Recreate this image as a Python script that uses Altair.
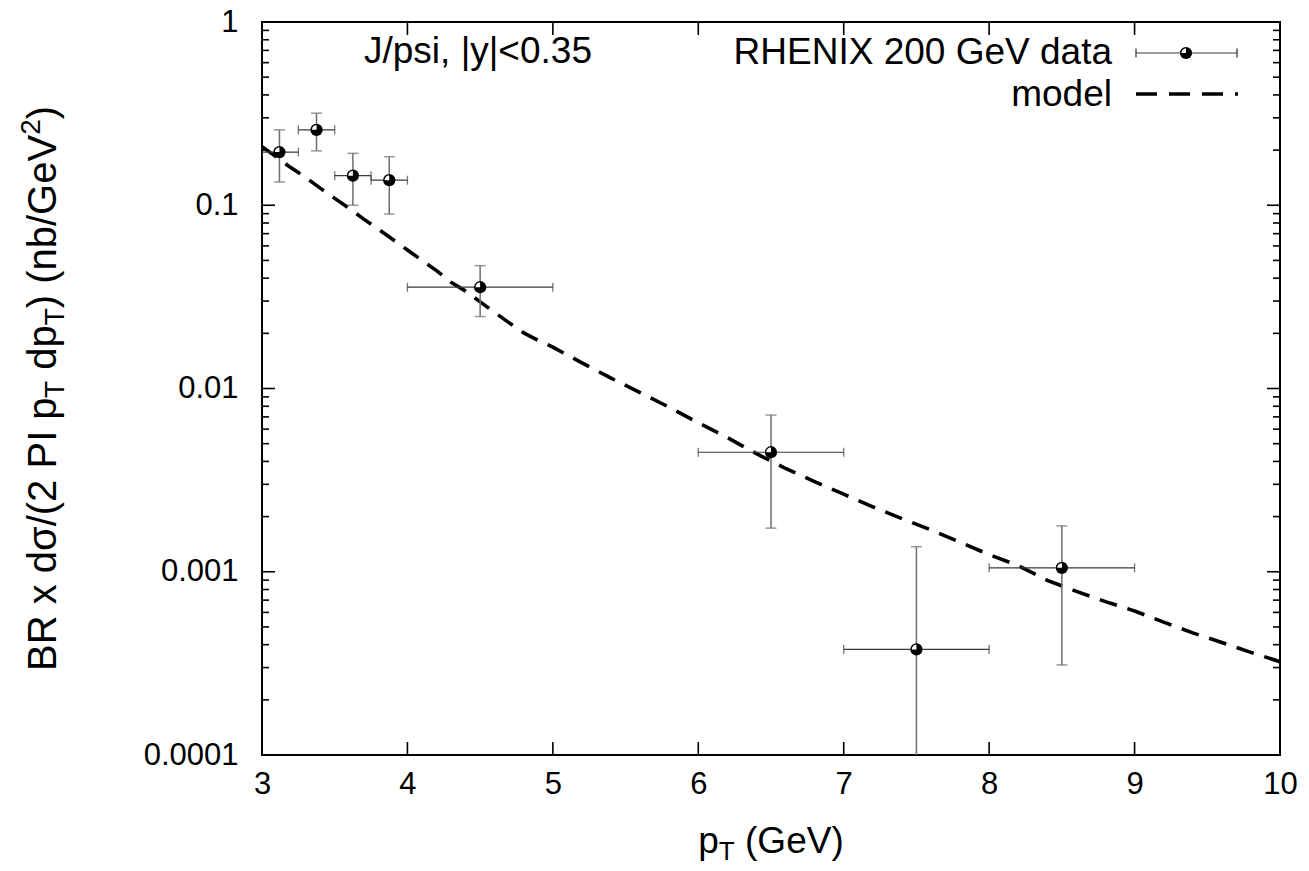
import altair as alt
import pandas as pd

FONT = "Liberation Sans"
W, H = 1018, 733

# ---- measured data points (pT bins) ----
pt_x = [3.12, 3.375, 3.625, 3.875, 4.5, 6.5, 7.5, 8.5]
pt_y = [0.195, 0.258, 0.145, 0.137, 0.0357, 0.00449, 0.000377, 0.00105]
pt_ylo = [0.134, 0.198, 0.100, 0.0896, 0.0247, 0.00173, 0.00005, 0.00031]
pt_yhi = [0.258, 0.318, 0.192, 0.184, 0.0468, 0.00716, 0.00137, 0.00178]
pt_xlo = [3.0, 3.25, 3.5, 3.75, 4.0, 6.0, 7.0, 8.0]
pt_xhi = [3.25, 3.5, 3.75, 4.0, 5.0, 7.0, 8.0, 9.0]

# ---- model curve ----
model_x = [3.0, 3.1, 3.2, 3.3, 3.4, 3.5, 3.6, 3.7, 3.8, 3.9, 4.0, 4.1, 4.2, 4.3,
           4.4, 4.5, 4.6, 4.7, 4.8, 4.9, 5.0, 5.2, 5.4, 5.6, 5.8, 6.0, 6.2, 6.4,
           6.6, 6.8, 7.0, 7.2, 7.4, 7.6, 7.8, 8.0, 8.2, 8.4, 8.6, 8.8, 9.0, 9.2,
           9.4, 9.6, 9.8, 10.0]
model_y = [0.209, 0.183, 0.160, 0.142, 0.124, 0.109, 0.096, 0.084, 0.074, 0.065,
           0.057, 0.050, 0.044, 0.038, 0.034, 0.0297, 0.026, 0.0228, 0.0201,
           0.0183, 0.0168, 0.0138, 0.0114, 0.0095, 0.0079, 0.0065, 0.0054,
           0.00441, 0.00366, 0.0031, 0.00265, 0.00226, 0.00195, 0.00169,
           0.00145, 0.00124, 0.00108, 0.000897, 0.000782, 0.000687, 0.000611,
           0.000531, 0.000464, 0.000411, 0.000363, 0.000323]

# ---- axis ticks ----
x_ticks = [3, 4, 5, 6, 7, 8, 9, 10]
y_major = [0.0001, 0.001, 0.01, 0.1, 1]
y_minor = [k * d for d in [0.0001, 0.001, 0.01, 0.1] for k in range(2, 10)]

# ---- text ----
label_text = "J/psi, |y|<0.35"
legend_data = "RHENIX 200 GeV data"
legend_model = "model"

ERR_V = "#6e6e6e"
ERR_H = "#3a3a3a"

xs = alt.Scale(domain=[3, 10], nice=False, zero=False)
ys = alt.Scale(type="log", domain=[1e-4, 1], nice=False)
xaxis = alt.Axis(values=x_ticks, format="d", title=None, domain=False, grid=False,
                 ticks=False, tickSize=0, labelFontSize=31, labelFont=FONT,
                 labelColor="black", labelPadding=14, labelFlush=False)
yaxis = alt.Axis(values=y_major, format=".4~f", title=None, domain=False, grid=False,
                 ticks=False, tickSize=0, labelFontSize=31, labelFont=FONT,
                 labelColor="black", labelPadding=24, labelFlush=False)


def X(f):
    return alt.X(f, type="quantitative", scale=xs, axis=xaxis)


def Y(f):
    return alt.Y(f, type="quantitative", scale=ys, axis=yaxis)


pts = pd.DataFrame({"x": pt_x, "y": pt_y, "ylo": pt_ylo, "yhi": pt_yhi,
                    "xlo": pt_xlo, "xhi": pt_xhi})
model = pd.DataFrame({"x": model_x, "y": model_y})
vcaps = pd.DataFrame({"x": pt_x + pt_x, "y": pt_ylo + pt_yhi})
hcaps = pd.DataFrame({"x": pt_xlo + pt_xhi, "y": pt_y + pt_y})

WEDGE = "M0,0L-1,0A1,1 0 0,1 0,-1Z"
MSIZE = 150
WSIZE = 85

layers = []
layers.append(alt.Chart(model).mark_line(color="black", strokeWidth=3.6,
                                          strokeDash=[18, 11], clip=True)
              .encode(x=X("x"), y=Y("y")))
layers.append(alt.Chart(pts).mark_rule(color=ERR_V, strokeWidth=1.5, clip=True)
              .encode(x=X("x"), y=Y("ylo"), y2="yhi"))
layers.append(alt.Chart(pts).mark_rule(color=ERR_H, strokeWidth=1.2, clip=True)
              .encode(x=X("xlo"), x2="xhi", y=Y("y")))
layers.append(alt.Chart(vcaps).mark_tick(orient="horizontal", size=11, thickness=1.5,
                                         color=ERR_V, clip=True)
              .encode(x=X("x"), y=Y("y")))
layers.append(alt.Chart(hcaps).mark_tick(orient="vertical", size=9, thickness=1.3,
                                         color=ERR_H, clip=True)
              .encode(x=X("x"), y=Y("y")))
layers.append(alt.Chart(pts).mark_point(shape="circle", filled=True, size=MSIZE,
                                        color="black", opacity=1, clip=True)
              .encode(x=X("x"), y=Y("y")))
layers.append(alt.Chart(pts).mark_point(shape=WEDGE, filled=True, size=WSIZE,
                                        color="white", opacity=1, strokeWidth=0, clip=True)
              .encode(x=X("x"), y=Y("y")))

# inward ticks (mirrored on all sides)
xt = pd.DataFrame({"x": x_ticks})
ymaj = pd.DataFrame({"y": y_major})
ymin = pd.DataFrame({"y": y_minor})
TICK = dict(color="black", strokeWidth=1.6)
layers.append(alt.Chart(xt).mark_rule(**TICK).encode(x=X("x"), y=alt.value(H), y2=alt.value(H - 13)))
layers.append(alt.Chart(xt).mark_rule(**TICK).encode(x=X("x"), y=alt.value(0), y2=alt.value(13)))
layers.append(alt.Chart(ymaj).mark_rule(**TICK).encode(y=Y("y"), x=alt.value(0), x2=alt.value(13)))
layers.append(alt.Chart(ymaj).mark_rule(**TICK).encode(y=Y("y"), x=alt.value(W), x2=alt.value(W - 13)))
layers.append(alt.Chart(ymin).mark_rule(**TICK).encode(y=Y("y"), x=alt.value(0), x2=alt.value(7)))
layers.append(alt.Chart(ymin).mark_rule(**TICK).encode(y=Y("y"), x=alt.value(W), x2=alt.value(W - 7)))


def text(t, x, y, size, align="left", angle=0, baseline="alphabetic"):
    kw = dict(font=FONT, fontSize=size, align=align, baseline=baseline, color="black")
    if angle:
        kw["angle"] = angle
    return (alt.Chart(pd.DataFrame({"t": [t]})).mark_text(**kw)
            .encode(text="t:N", x=alt.value(x), y=alt.value(y)))


layers.append(text(label_text, 102, 41, 37))
layers.append(text(legend_data, 850, 42, 37, align="right"))
layers.append(text(legend_model, 850, 84, 37, align="right"))

# legend samples
leg = pd.DataFrame({"a": [0]})
layers.append(alt.Chart(leg).mark_rule(color=ERR_H, strokeWidth=1.2)
              .encode(x=alt.value(874), x2=alt.value(975), y=alt.value(31)))
for cx in (874, 975):
    layers.append(alt.Chart(leg).mark_rule(color=ERR_H, strokeWidth=1.3)
                  .encode(x=alt.value(cx), y=alt.value(26.5), y2=alt.value(35.5)))
layers.append(alt.Chart(leg).mark_point(shape="circle", filled=True, size=MSIZE,
                                        color="black", opacity=1)
              .encode(x=alt.value(924), y=alt.value(31)))
layers.append(alt.Chart(leg).mark_point(shape=WEDGE, filled=True, size=WSIZE,
                                        color="white", opacity=1, strokeWidth=0)
              .encode(x=alt.value(924), y=alt.value(31)))
layers.append(alt.Chart(leg).mark_rule(color="black", strokeWidth=3.6, strokeDash=[21, 12])
              .encode(x=alt.value(874), x2=alt.value(976), y=alt.value(72)))

# ---- axis titles with sub/superscripts ----
AW = {' ': 278, '(': 333, ')': 333, '/': 278, '.': 278, ',': 278, '<': 584, '|': 260,
      '0': 556, '1': 556, '2': 556, '3': 556, '5': 556,
      'B': 667, 'R': 722, 'P': 667, 'I': 278, 'T': 611, 'G': 778, 'V': 667,
      'x': 500, 'd': 556, 'p': 556, 'n': 556, 'b': 556, 'e': 556, 'σ': 600}


def tw(s, fs):
    return sum(AW.get(c, 556) for c in s) / 1000.0 * fs


def segments(segs):
    """Split leading spaces off into offsets (SVG collapses them)."""
    out = []
    for s, f, d in segs:
        lead = len(s) - len(s.lstrip(" "))
        out.append((s.strip(" "), f, d, tw(" " * lead, f), tw(s, f)))
    return out


FS = 37
YFS = 40
SUB = 26
# x title
xsegs = segments([("p", FS, 0), ("T", SUB, 7), (" (GeV)", FS, 0)])
L = sum(seg[4] for seg in xsegs)
cx = W / 2 - L / 2
xb = 831
for s, f, dy, pre, full in xsegs:
    layers.append(text(s, cx + pre, xb + dy, f))
    cx += full

# y title (rotated, reading upward)
ysegs = segments([("BR x dσ/(2 PI p", YFS, 0), ("T", 28, 8), (" dp", YFS, 0), ("T", 28, 8),
                  (") (nb/GeV", YFS, 0), ("2", 28, -16), (")", YFS, 0)])
L = sum(seg[4] for seg in ysegs)
cy = H / 2 + L / 2
yb = -206
for s, f, dx, pre, full in ysegs:
    layers.append(text(s, yb + dx, cy - pre, f, angle=270))
    cy -= full

chart = (alt.layer(*layers)
         .properties(width=W, height=H,
                     autosize=alt.AutoSizeParams(type="none"),
                     padding={"left": 254, "top": 14, "right": 20, "bottom": 112},
                     background="white")
         .configure_view(stroke="black", strokeWidth=2)
         .resolve_scale(x="shared", y="shared"))

chart.save("out.html", embed_options={"renderer": "svg", "actions": False})
